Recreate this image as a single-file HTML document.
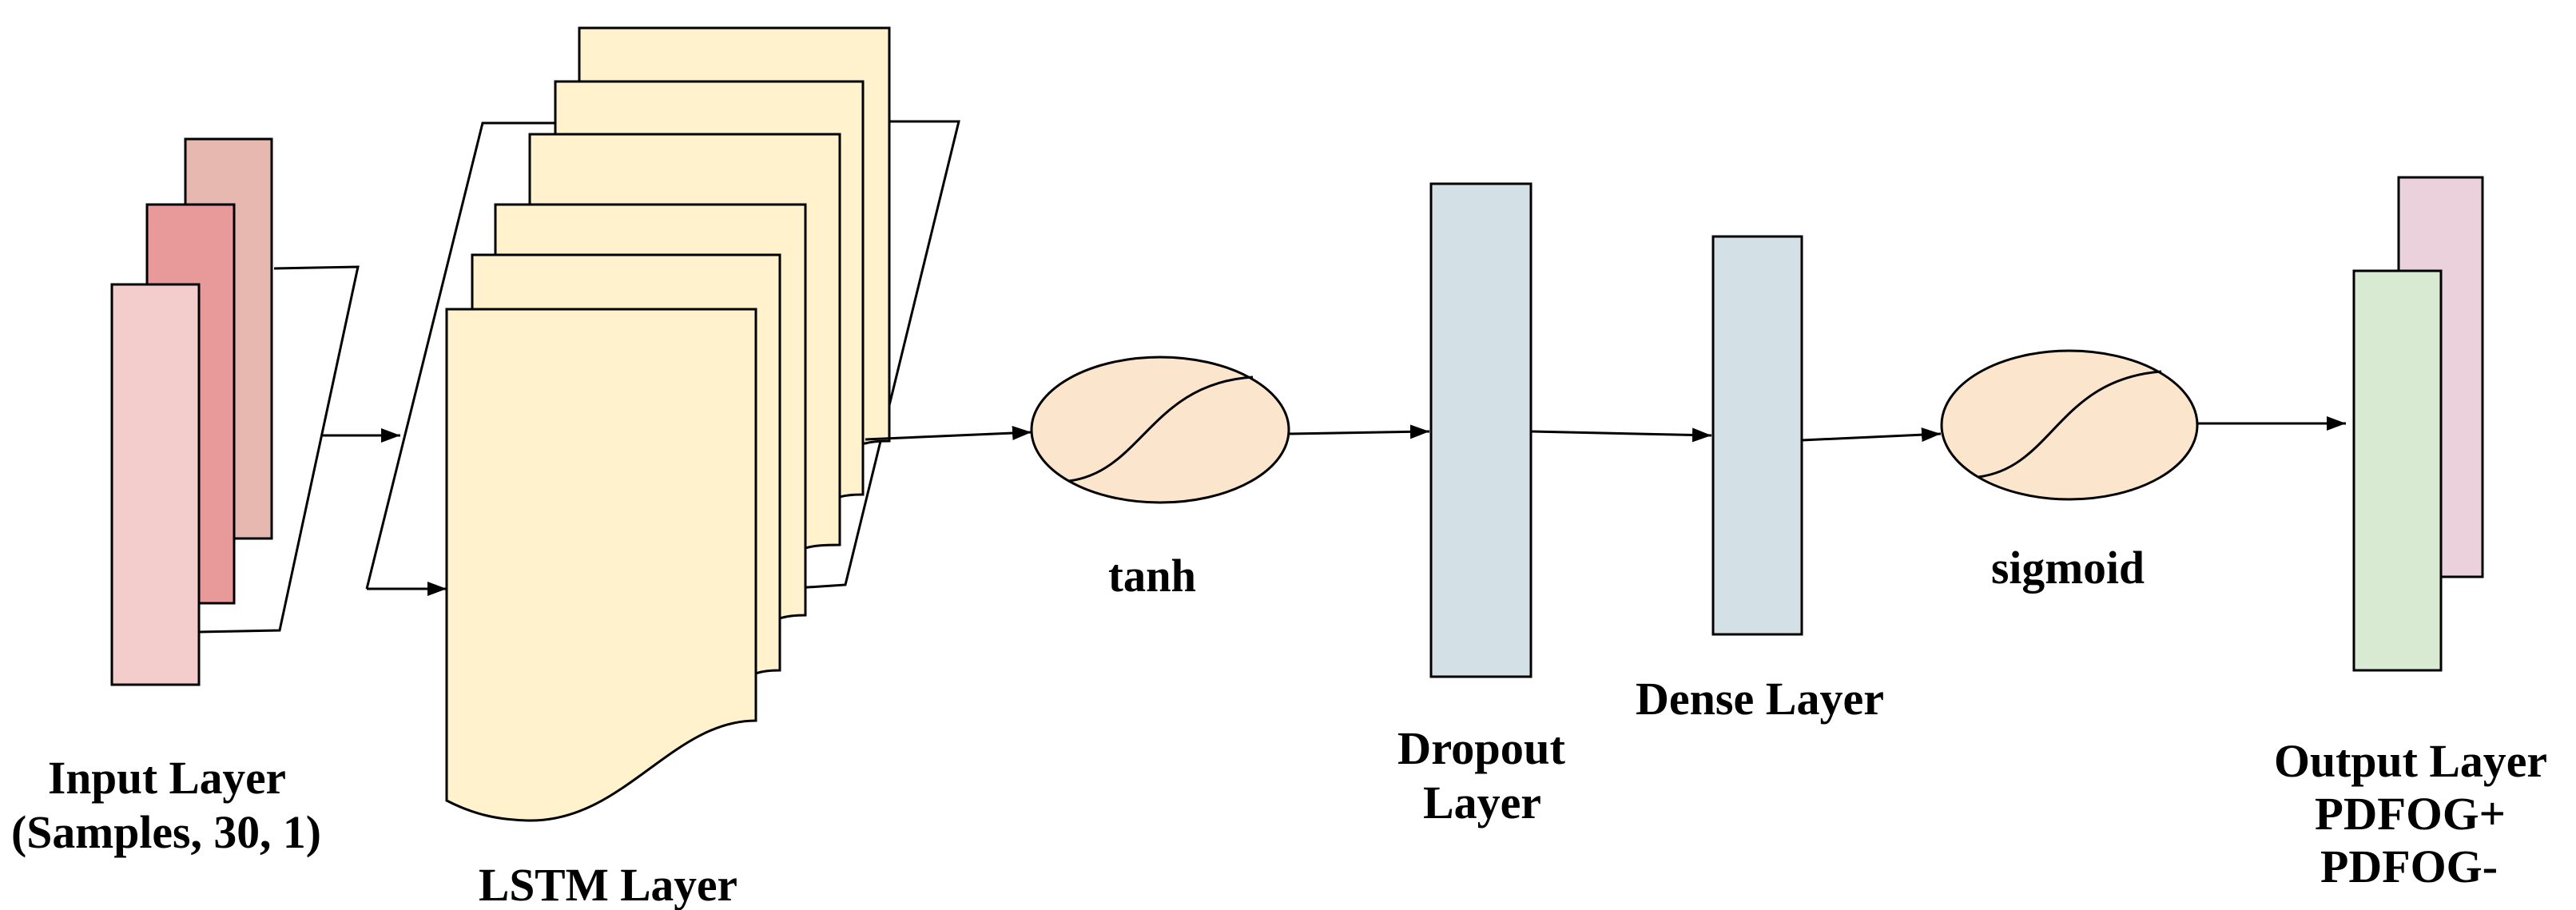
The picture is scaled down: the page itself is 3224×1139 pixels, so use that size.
<!DOCTYPE html>
<html><head><meta charset="utf-8"><style>
html,body{margin:0;padding:0;background:#fff;}
svg{display:block;}
text{font-family:"Liberation Serif",serif;font-weight:bold;font-size:58px;fill:#000;}
</style></head><body>
<svg width="3224" height="1139" viewBox="0 0 3224 1139" xmlns="http://www.w3.org/2000/svg">
<defs>
<marker id="a" markerWidth="8" markerHeight="6" refX="8" refY="3" orient="auto" markerUnits="strokeWidth">
<path d="M0,0 L8,3 L0,6 z" fill="#000"/>
</marker>
</defs>
<g stroke="#000" stroke-width="3">
<!-- input layer -->
<rect x="232" y="174" width="108" height="500" fill="#e6b8b0"/>
<rect x="184" y="256" width="109" height="499" fill="#e8999a"/>
<rect x="140" y="356" width="109" height="501" fill="#f3cccc"/>
<polyline points="343,336 448,334 350,789 250,791" fill="none"/>
<line x1="403" y1="545" x2="501" y2="545" marker-end="url(#a)"/>
<!-- LSTM parallelogram -->
<polyline points="725,154 604,154 459,737" fill="none"/>
<line x1="459" y1="737" x2="559" y2="737" marker-end="url(#a)"/>
<polyline points="1113,152 1200,152 1058,732 949,739" fill="none"/>
<!-- pages -->
<path d="M725,35 H1113 V552 C1100,552 1090,553 1083,555 L725,555 Z" fill="#fff2cc"/>
<path d="M695,102 H1080 V619 C1068,619 1058,620 1051,622 L695,622 Z" fill="#fff2cc"/>
<path d="M663,168 H1051 V682 C1030,682 1018,683 1008,686 L663,686 Z" fill="#fff2cc"/>
<path d="M620,256 H1008 V770 C995,770 985,771 976,774 L620,774 Z" fill="#fff2cc"/>
<path d="M591,319 H976 V839 C963,839 954,840 946,843 L591,843 Z" fill="#fff2cc"/>
<path d="M559,387 H946 V902 C840,902 780,1030 660,1027 C620,1026 590,1018 559,1002 Z" fill="#fff2cc"/>
<polyline points="1083,550 1291,541" fill="none" marker-end="url(#a)"/>
<!-- tanh -->
<ellipse cx="1452" cy="538" rx="161" ry="91" fill="#fce5cd"/>
<path d="M1338,602 C1430,590 1440,480 1568,472" fill="none"/>
<line x1="1614" y1="543" x2="1789" y2="540" marker-end="url(#a)"/>
<!-- dropout -->
<rect x="1791" y="230" width="125" height="617" fill="#d3e1e6"/>
<line x1="1916" y1="540" x2="2142" y2="545" marker-end="url(#a)"/>
<!-- dense -->
<rect x="2144" y="296" width="111" height="498" fill="#d3e1e6"/>
<line x1="2255" y1="551" x2="2429" y2="543" marker-end="url(#a)"/>
<!-- sigmoid -->
<ellipse cx="2590" cy="532" rx="160" ry="93" fill="#fce5cd"/>
<path d="M2476,597 C2570,585 2575,475 2705,465" fill="none"/>
<line x1="2750" y1="530" x2="2936" y2="530" marker-end="url(#a)"/>
<!-- output -->
<rect x="3002" y="222" width="105" height="500" fill="#ead1dc"/>
<rect x="2946" y="339" width="109" height="500" fill="#d9ead3"/>
</g>
<text x="60" y="993" textLength="298" lengthAdjust="spacingAndGlyphs">Input Layer</text>
<text x="14" y="1061" textLength="388" lengthAdjust="spacingAndGlyphs">(Samples, 30, 1)</text>
<text x="599" y="1127" textLength="324" lengthAdjust="spacingAndGlyphs">LSTM Layer</text>
<text x="1387" y="740" textLength="110" lengthAdjust="spacingAndGlyphs">tanh</text>
<text x="1749" y="956" textLength="210" lengthAdjust="spacingAndGlyphs">Dropout</text>
<text x="1781" y="1024" textLength="148" lengthAdjust="spacingAndGlyphs">Layer</text>
<text x="2047" y="894" textLength="311" lengthAdjust="spacingAndGlyphs">Dense Layer</text>
<text x="2492" y="730" textLength="192" lengthAdjust="spacingAndGlyphs">sigmoid</text>
<text x="2846" y="972" textLength="342" lengthAdjust="spacingAndGlyphs">Output Layer</text>
<text x="2897" y="1038" textLength="239" lengthAdjust="spacingAndGlyphs">PDFOG+</text>
<text x="2904" y="1104" textLength="222" lengthAdjust="spacingAndGlyphs">PDFOG-</text>
</svg>
</body></html>
